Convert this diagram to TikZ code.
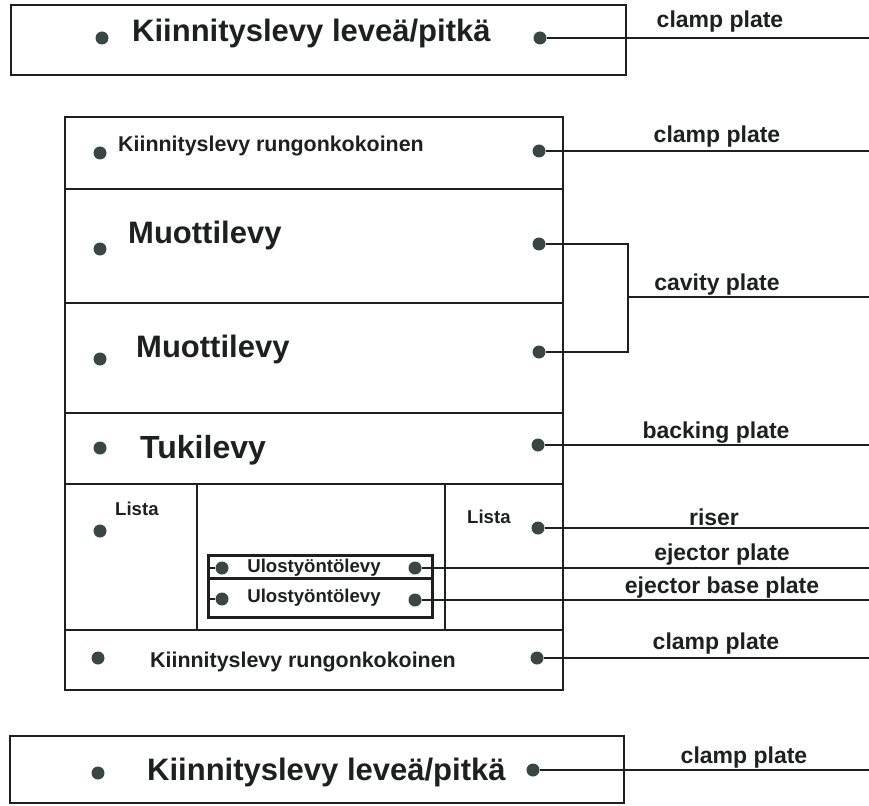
\documentclass[tikz,border=0pt]{standalone}
\usepackage{fontspec}
\setmainfont{Liberation Sans}
\usetikzlibrary{positioning}
\definecolor{dotgray}{RGB}{58,70,68}
\definecolor{inkgray}{RGB}{30,32,32}
\newcommand{\szbig}{\fontsize{31}{37}\selectfont}
\newcommand{\szmid}{\fontsize{21.4}{26}\selectfont}
\newcommand{\szsmall}{\fontsize{18.6}{22}\selectfont}
\begin{document}
\begin{tikzpicture}[x=1pt, y=-1pt, roundnode/.style={circle, fill=dotgray, inner sep=0pt, minimum size=13pt}, platetext/.style={anchor=base west, inner sep=0pt, text=inkgray}, partlabel/.style={anchor=base, inner sep=0pt, text=inkgray, font=\bfseries\fontsize{23}{27}\selectfont}, plate/.style={draw=inkgray, line width=2.8pt}, lead/.style={draw=inkgray, line width=1.6pt}]
\useasboundingbox (0,0) rectangle (869,805);
% top plate
\draw[plate] (11,5) rectangle (626,75);
\node[roundnode] at (102,38) (0l) {};
\node[roundnode] at (540,38) (0r) {};
\node[platetext, font=\bfseries\szbig] at (132,42) (0t) {Kiinnityslevy leveä/pitkä};
\coordinate (0e) at (869,38);
\draw[lead] (0r) -- (0e);
\node[partlabel] at (720,28) (0p) {clamp plate};
% main frame
\draw[plate] (65,117) rectangle (563,690);
\draw[plate] (65,189) -- (563,189);
\draw[plate] (65,303) -- (563,303);
\draw[plate] (65,413) -- (563,413);
\draw[plate] (65,484) -- (563,484);
\draw[plate] (65,630) -- (563,630);
\draw[plate] (197,484) -- (197,630);
\draw[plate] (445,484) -- (445,630);
% row 1
\node[roundnode] at (100,153) (1l) {};
\node[roundnode] at (539,151) (1r) {};
\node[platetext, font=\bfseries\szmid] at (118,152) (1t) {Kiinnityslevy rungonkokoinen};
\coordinate (1e) at (869,151);
\draw[lead] (1r) -- (1e);
\node[partlabel] at (717,143) (1p) {clamp plate};
% rows 2 and 3
\node[roundnode] at (100,249) (2l) {};
\node[roundnode] at (539,244) (2r) {};
\node[platetext, font=\bfseries\szbig] at (128,243) (2t) {Muottilevy};
\node[roundnode] at (100,359) (3l) {};
\node[roundnode] at (539,352) (3r) {};
\node[platetext, font=\bfseries\szbig] at (136,357) (3t) {Muottilevy};
\coordinate (2b) at (628,244);
\coordinate (3b) at (628,352);
\coordinate (23m) at (628,297);
\coordinate (23e) at (869,297);
\draw[lead] (2r) -- (2b) -- (3b) -- (3r);
\draw[lead] (23m) -- (23e);
\node[partlabel] at (717,290) (23p) {cavity plate};
% row 4
\node[roundnode] at (100,448) (4l) {};
\node[roundnode] at (538,445) (4r) {};
\node[platetext, font=\bfseries\fontsize{32}{38}\selectfont] at (140,458) (4t) {Tukilevy};
\coordinate (4e) at (869,445);
\draw[lead] (4r) -- (4e);
\node[partlabel] at (716,438) (4p) {backing plate};
% row 5
\node[platetext, font=\bfseries\szsmall] at (115,515) (5lt) {Lista};
\node[roundnode] at (100,531) (5l) {};
\node[platetext, font=\bfseries\szsmall] at (467,523) (5rt) {Lista};
\node[roundnode] at (538,528) (5r) {};
\coordinate (5e) at (869,528);
\draw[lead] (5r) -- (5e);
\node[partlabel] at (714,525) (5p) {riser};
% ejector plates
\draw[plate, line width=3pt] (208,555) rectangle (432,617);
\draw[plate, line width=3pt] (208,578) -- (432,578);
\node[roundnode] at (222,568) (6l) {};
\node[roundnode] at (415,568) (6r) {};
\node[roundnode] at (222,599) (7l) {};
\node[roundnode] at (415,600) (7r) {};
\node[anchor=base, inner sep=0pt, text=inkgray, font=\bfseries\szsmall] at (314,572) (6t) {Ulostyöntölevy};
\node[anchor=base, inner sep=0pt, text=inkgray, font=\bfseries\szsmall] at (314,602) (7t) {Ulostyöntölevy};
\coordinate (6w) at (208,568);
\coordinate (7w) at (208,599);
\coordinate (6e) at (869,568);
\coordinate (7e) at (869,600);
\draw[lead] (6w) -- (6l);
\draw[lead] (7w) -- (7l);
\draw[lead] (6r) -- (6e);
\draw[lead] (7r) -- (7e);
\node[partlabel] at (722,560) (6p) {ejector plate};
\node[partlabel] at (722,593) (7p) {ejector base plate};
% row 6
\node[roundnode] at (98,658) (8l) {};
\node[roundnode] at (537,658) (8r) {};
\node[platetext, font=\bfseries\szmid] at (150,667) (8t) {Kiinnityslevy rungonkokoinen};
\coordinate (8e) at (869,658);
\draw[lead] (8r) -- (8e);
\node[partlabel] at (716,649) (8p) {clamp plate};
% bottom plate
\draw[plate] (10,736) rectangle (624,803);
\node[roundnode] at (98,773) (9l) {};
\node[roundnode] at (533,770) (9r) {};
\node[platetext, font=\bfseries\szbig] at (147,780) (9t) {Kiinnityslevy leveä/pitkä};
\coordinate (9e) at (869,770);
\draw[lead] (9r) -- (9e);
\node[partlabel] at (744,763) (9p) {clamp plate};
\end{tikzpicture}
\end{document}
